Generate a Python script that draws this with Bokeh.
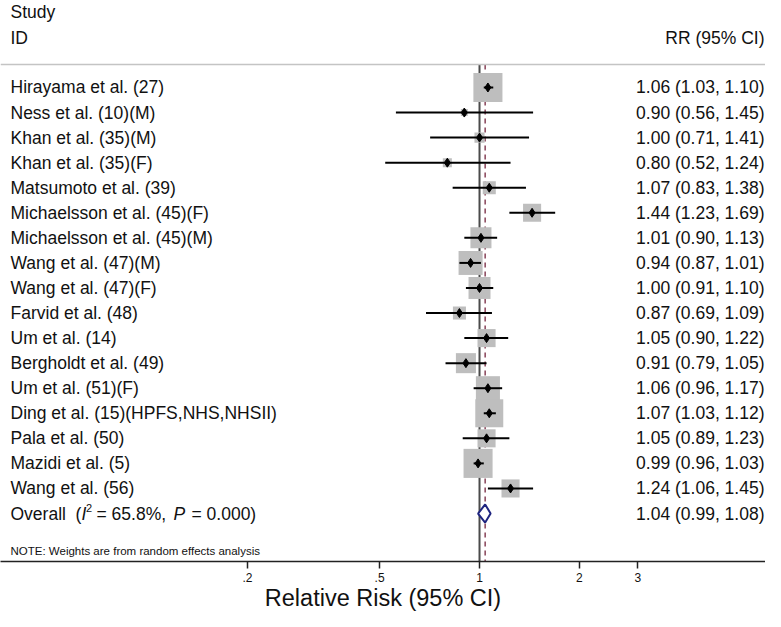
from bokeh.plotting import figure
from bokeh.models import Range1d, FixedTicker, Span, ColumnDataSource
from bokeh.core.properties import value
from bokeh.embed import file_html
from bokeh.resources import INLINE
import math

studies = ["Hirayama et al. (27)", "Ness et al. (10)(M)", "Khan et al. (35)(M)",
           "Khan et al. (35)(F)", "Matsumoto et al. (39)", "Michaelsson et al. (45)(F)",
           "Michaelsson et al. (45)(M)", "Wang et al. (47)(M)", "Wang et al. (47)(F)",
           "Farvid et al. (48)", "Um et al. (14)", "Bergholdt et al. (49)",
           "Um et al. (51)(F)", "Ding et al. (15)(HPFS,NHS,NHSII)", "Pala et al. (50)",
           "Mazidi et al. (5)", "Wang et al. (56)"]
rr = [1.06, 0.90, 1.00, 0.80, 1.07, 1.44, 1.01, 0.94, 1.00, 0.87, 1.05, 0.91, 1.06, 1.07, 1.05, 0.99, 1.24]
lo = [1.03, 0.56, 0.71, 0.52, 0.83, 1.23, 0.90, 0.87, 0.91, 0.69, 0.90, 0.79, 0.96, 1.03, 0.89, 0.96, 1.06]
hi = [1.10, 1.45, 1.41, 1.24, 1.38, 1.69, 1.13, 1.01, 1.10, 1.09, 1.22, 1.05, 1.17, 1.12, 1.23, 1.03, 1.45]
weights = [12.4, 0.7, 1.5, 1.2, 2.5, 4.8, 6.5, 8.5, 7.1, 2.5, 4.8, 5.9, 8.5, 11.5, 4.8, 12.4, 4.8]
overall_rr, overall_lo, overall_hi = 1.04, 0.99, 1.08
overall_label = "Overall"
i2_text, p_text = "65.8%", "0.000"
tick_values = [0.2, 0.5, 1, 2, 3]
tick_labels = [".2", ".5", "1", "2", "3"]

FONT = "Liberation Sans"
FS = "17.5px"
TXT = "#111111"

rows = list(range(1, len(studies) + 1))
overall_row = len(studies) + 1
ci_text = ["%.2f (%.2f, %.2f)" % (a, b, c) for a, b, c in zip(rr, lo, hi)]
sizes = [8.25 * math.sqrt(w) for w in weights]

X0, X1 = 0.03608, 7.267
Y_BOTTOM, Y_TOP = 19.915, -2.4717
SEP = 0.082

src = ColumnDataSource(dict(study=studies, rr=rr, lo=lo, hi=hi, row=rows,
                            ci=ci_text, size=sizes))

p = figure(frame_width=765, frame_height=561, x_axis_type="log",
           x_range=Range1d(X0, X1), y_range=Range1d(Y_BOTTOM, Y_TOP),
           output_backend="svg", toolbar_location=None, y_axis_location=None,
           min_border_left=0, min_border_right=0, min_border_top=0, min_border_bottom=0)
p.grid.visible = False
p.outline_line_color = None
p.background_fill_color = "white"

# separator line under header
p.add_layout(Span(location=SEP, dimension="width", line_color="#c4c4c4", line_width=1.5))

# reference lines
p.segment(x0=[1], y0=[SEP], x1=[1], y1=[Y_BOTTOM], line_color="#4a4a4a", line_width=2)
p.segment(x0=[overall_rr], y0=[SEP], x1=[overall_rr], y1=[Y_BOTTOM],
          line_color="#8f4f63", line_width=1.6, line_dash="5 4")

# weight boxes
p.scatter(x="rr", y="row", size="size", marker="square", source=src,
          fill_color="#bebebe", line_color=None)
# CIs and points
p.segment(x0="lo", y0="row", x1="hi", y1="row", source=src, line_color="black", line_width=2)
p.scatter(x="rr", y="row", size=9, marker="diamond", source=src,
          fill_color="black", line_color="black")

# overall diamond
h = 0.36
p.patch(x=[overall_lo, overall_rr, overall_hi, overall_rr],
        y=[overall_row, overall_row - h, overall_row, overall_row + h],
        fill_color="white", line_color="#1f2580", line_width=2)

def txt(x, y, t, xo=0, yo=0, fs=FS, align="left", style="normal"):
    p.text(x=[x], y=[y], text=[t], x_offset=xo, y_offset=yo, text_font=value(FONT),
           text_font_size=fs, text_font_style=style, text_baseline="middle",
           text_align=align, text_color=TXT)

# left column texts
p.text(x=X0, y="row", text="study", source=src, x_offset=10, text_font=value(FONT),
       text_font_size=FS, text_baseline="middle", text_align="left", text_color=TXT)
txt(X0, -1.993, "Study", xo=10)
txt(X0, -0.995, "ID", xo=10)

# right column texts
p.text(x=X1, y="row", text="ci", source=src, x_offset=-1, text_font=value(FONT),
       text_font_size=FS, text_baseline="middle", text_align="right", text_color=TXT)
txt(X1, -0.995, "RR (95% CI)", xo=-1, align="right")
txt(X1, overall_row, "%.2f (%.2f, %.2f)" % (overall_rr, overall_lo, overall_hi), xo=-1, align="right")

# overall label with italics / superscript, piece by piece
txt(X0, overall_row, overall_label, xo=10)
txt(X0, overall_row, "(", xo=75)
txt(X0, overall_row, "I", xo=81, style="italic")
txt(X0, overall_row, "2", xo=85.5, yo=-6, fs="11px")
txt(X0, overall_row, "= " + i2_text + ",", xo=96)
txt(X0, overall_row, "P", xo=173, style="italic")
txt(X0, overall_row, "= " + p_text + ")", xo=191)

txt(X0, 19.515, "NOTE: Weights are from random effects analysis", xo=10, fs="11.5px")

# x axis
ax = p.xaxis[0]
ax.ticker = FixedTicker(ticks=tick_values, minor_ticks=[])
ax.major_label_overrides = {v: l for v, l in zip(tick_values, tick_labels)}
ax.axis_label = "Relative Risk (95% CI)"
ax.axis_label_text_font = FONT
ax.axis_label_text_font_size = "23.5px"
ax.axis_label_text_font_style = "normal"
ax.axis_label_text_color = TXT
ax.axis_label_standoff = 0
ax.major_label_text_font = FONT
ax.major_label_text_font_size = "12px"
ax.major_label_text_color = TXT
ax.major_label_standoff = 4
ax.major_tick_out = 7
ax.major_tick_in = 0
ax.minor_tick_out = 0
ax.minor_tick_in = 0
ax.major_tick_line_color = "#222"
ax.major_tick_line_width = 1.5
ax.axis_line_color = "#222"
ax.axis_line_width = 1.5

open("out.html", "w").write(file_html(p, INLINE))
